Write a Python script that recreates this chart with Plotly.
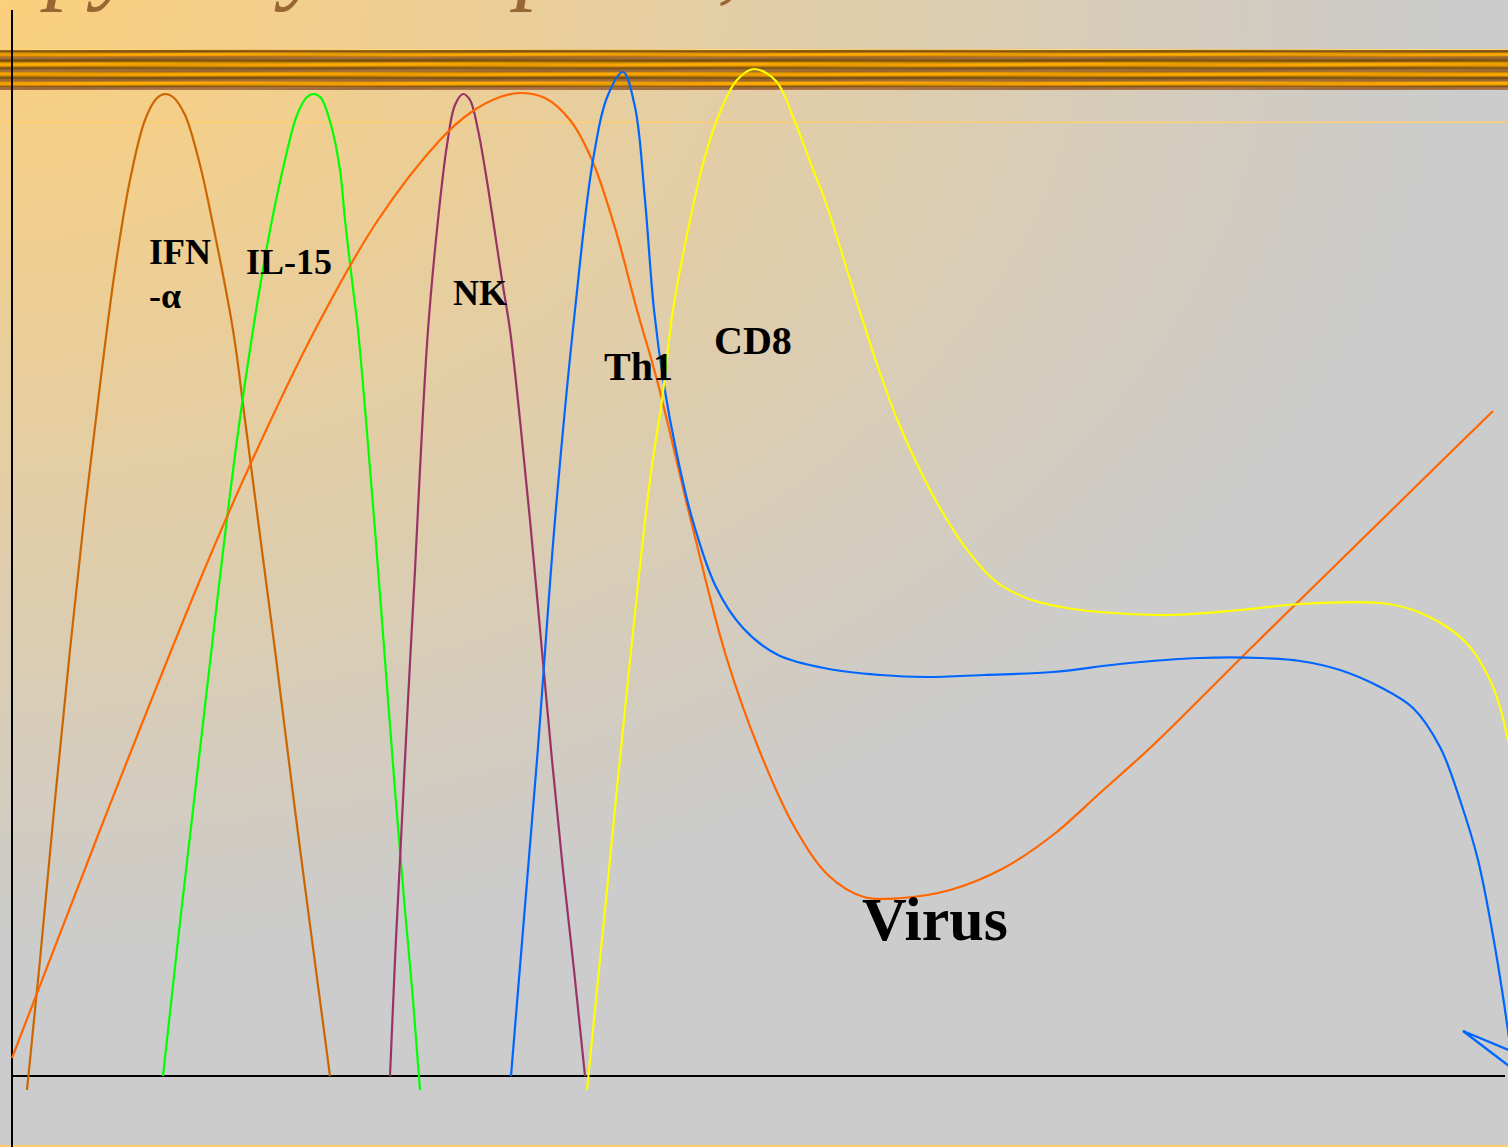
import base64
import struct
import zlib

import numpy as np
import plotly.graph_objects as go

W, H = 1508, 1147

# ---- data: time (x) and response level (y) samples for each curve ----
ifn_t = [15, 28, 43, 58, 73, 88, 103, 118, 133, 145, 153, 161, 173, 188, 200, 221, 233, 246, 263, 283, 300, 318]
ifn_v = [-14, 116, 276, 426, 566, 691, 806, 896, 956, 978, 982, 979, 961, 911, 856, 746, 656, 556, 426, 266, 136, 0]

il15_t = [151, 166, 181, 196, 210, 225, 241, 250, 260, 273, 285, 295, 302, 309, 319, 328, 333, 340, 346, 354, 363, 373, 383, 393, 401, 408]
il15_v = [0, 136, 266, 396, 516, 636, 746, 801, 856, 916, 961, 979, 982, 978, 951, 906, 856, 796, 746, 656, 546, 416, 286, 166, 76, -14]

nk_t = [378, 383, 389, 396, 403, 409, 416, 426, 435, 443, 451, 458, 466, 474, 481, 490, 498, 508, 518, 529, 540, 551, 562, 573]
nk_v = [0, 116, 236, 376, 506, 626, 746, 856, 931, 971, 982, 976, 946, 901, 856, 796, 746, 656, 556, 436, 316, 206, 106, 0]

virus_t = [0, 88, 188, 238, 303, 366, 428, 458, 488, 508, 533, 558, 580, 603, 625, 645, 680, 714, 748, 783,
           817, 852, 890, 938, 990, 1041, 1088, 1138, 1188, 1238, 1288, 1338, 1388, 1438, 1481]
virus_v = [18, 246, 496, 611, 746, 856, 936, 963, 979, 983, 978, 956, 916, 848, 766, 696, 551, 420, 324, 248,
           200, 179, 178, 186, 207, 241, 283, 328, 377, 427, 476, 525, 574, 623, 665]

th1_t = [499, 525, 543, 563, 581, 596, 611, 623, 633, 642, 652, 664, 680, 704, 731, 766, 817, 869, 914, 972,
         1041, 1108, 1188, 1248, 1288, 1328, 1368, 1401, 1428, 1448, 1466, 1480, 1490, 1498]
th1_v = [0, 316, 556, 766, 916, 981, 1004, 969, 876, 766, 691, 626, 558, 489, 448, 421, 407, 401, 399, 401,
         404, 412, 418, 418, 415, 406, 389, 368, 329, 276, 216, 146, 86, 31]
# the small hook where the Th1 trace folds back in at the right edge
th1_hook_t = [1518, 1451, 1518]
th1_hook_v = [17, 45, -6]

cd8_t = [575, 595, 616, 638, 650, 661, 676, 692, 708, 725, 742, 764, 783, 799, 814, 832, 849, 867, 885, 906,
         928, 953, 982, 1014, 1049, 1088, 1158, 1228, 1288, 1368, 1401, 1435, 1458, 1478, 1488, 1498]
cd8_v = [-14, 186, 396, 596, 676, 766, 846, 916, 964, 996, 1007, 995, 954, 912, 873, 816, 761, 706, 657, 610,
         568, 529, 496, 478, 469, 464, 461, 466, 472, 473, 466, 449, 429, 396, 369, 326]

series = [
    ("IFN-α", ifn_t, ifn_v, "#CC6600"),
    ("IL-15", il15_t, il15_v, "#00FF00"),
    ("NK", nk_t, nk_v, "#993366"),
    ("Virus", virus_t, virus_v, "#FF6600"),
    ("Th1", th1_t, th1_v, "#0066FF"),
    ("CD8", cd8_t, cd8_v, "#FFFF00"),
]

X_RANGE = [-12, 1496]
Y_RANGE = [-71, 1076]

# ---- slide backdrop: warm corner gradient, gilded rail and hairlines ----
yy, xx = np.mgrid[0:H, 0:W].astype(float)
r = np.sqrt((xx / 1450.0) ** 2 + (yy / 950.0) ** 2)
wgt = np.clip(1.0 - r, 0.0, 1.0)[..., None]
gray = np.array([204.0, 204.0, 204.0])
warm = np.array([252.0, 208.0, 125.0])
img = gray + (warm - gray) * wgt

rail = {
    49: (255, 208, 112), 50: (150, 100, 30), 51: (130, 85, 15), 52: (180, 120, 10), 53: (230, 155, 5),
    54: (250, 165, 0), 55: (235, 155, 5), 56: (190, 125, 15), 57: (160, 105, 50), 58: (160, 105, 55),
    59: (140, 90, 20), 60: (120, 80, 10), 61: (150, 100, 10), 62: (200, 135, 5), 63: (240, 160, 0),
    64: (250, 165, 0), 65: (240, 158, 3), 66: (200, 132, 10), 67: (150, 100, 15), 68: (125, 82, 12),
    69: (155, 105, 50), 70: (160, 105, 58), 71: (165, 110, 40), 72: (210, 140, 10), 73: (245, 163, 0),
    74: (250, 166, 0), 75: (230, 152, 5), 76: (180, 118, 15), 77: (135, 88, 15), 78: (125, 82, 15),
    79: (155, 104, 50), 80: (160, 106, 58), 81: (200, 135, 20), 82: (245, 162, 0), 83: (250, 166, 0),
    84: (238, 157, 3), 85: (190, 125, 12), 86: (140, 92, 15), 87: (160, 106, 60), 88: (165, 110, 65),
    89: (170, 115, 70),
}
cols = np.arange(W, dtype=float)
for row, rgb in rail.items():
    shade = 1.0 + 0.05 * np.sin(cols / 53.0 + row * 0.9)
    img[row] = np.clip(np.array(rgb, dtype=float)[None, :] * shade[:, None], 0, 255)
img[121] = (img[121] + np.array([255.0, 206.0, 110.0])) / 2
img[122] = [255, 206, 110]
img[H - 2:] = [255, 206, 104]

arr = np.clip(img, 0, 255).astype(np.uint8)
raw = np.hstack([np.zeros((H, 1), np.uint8), arr.reshape(H, W * 3)]).tobytes()


def chunk(tag, data):
    return struct.pack(">I", len(data)) + tag + data + struct.pack(">I", zlib.crc32(tag + data) & 0xFFFFFFFF)


png = (b"\x89PNG\r\n\x1a\n"
       + chunk(b"IHDR", struct.pack(">IIBBBBB", W, H, 8, 2, 0, 0, 0))
       + chunk(b"IDAT", zlib.compress(raw, 9))
       + chunk(b"IEND", b""))
backdrop = "data:image/png;base64," + base64.b64encode(png).decode()

# ---- figure ----
fig = go.Figure()
for name, t, v, color in series:
    fig.add_trace(go.Scatter(x=t, y=v, mode="lines", name=name,
                             line=dict(color=color, width=2.2, shape="spline", smoothing=1.0,
                                       simplify=False),
                             hoverinfo="skip"))
fig.add_trace(go.Scatter(x=th1_hook_t, y=th1_hook_v, mode="lines", name="Th1",
                         line=dict(color="#0066FF", width=2.2), hoverinfo="skip"))

serif = "Liberation Serif"
labels = [
    ("IFN", 135, 802, 36),
    ("-α", 135, 758, 36),
    ("IL-15", 232, 792, 36),
    ("NK", 439, 761, 36),
    ("Th1", 590, 685, 40),
    ("CD8", 700, 711, 40),
    ("Virus", 848, 121, 62),
]
for text, x, y, size in labels:
    fig.add_annotation(x=x, y=y, xref="x", yref="y", text=f"<b>{text}</b>", showarrow=False,
                       xanchor="left", yanchor="bottom",
                       font=dict(family=serif, size=size, color="black"))

# slide heading, mostly above the visible frame
fig.add_annotation(x=-485 / W, y=1 - 14 / H, xref="paper", yref="paper",
                   text="<i>Immunotherapy: key receptors, cells and kinetics</i>",
                   showarrow=False, xanchor="left", yanchor="bottom",
                   font=dict(family=serif, size=98, color="#996633"))

# time and level axes (black rules through the origin)
axis_line = dict(color="black", width=2)
fig.add_shape(type="line", xref="x", yref="y", x0=0, x1=1493, y0=0, y1=0, line=axis_line, layer="below")
fig.add_shape(type="line", xref="x", yref="y", x0=0, x1=0, y0=Y_RANGE[0], y1=1066, line=axis_line, layer="below")

axis_style = dict(showgrid=False, showticklabels=False, ticks="", showline=False, zeroline=False)
fig.update_xaxes(range=X_RANGE, **axis_style)
fig.update_yaxes(range=Y_RANGE, **axis_style)

fig.update_layout(
    width=W, height=H,
    margin=dict(l=0, r=0, t=0, b=0),
    paper_bgcolor="rgba(0,0,0,0)",
    plot_bgcolor="rgba(0,0,0,0)",
    showlegend=False,
    images=[dict(source=backdrop, xref="paper", yref="paper", x=0, y=1, sizex=1, sizey=1,
                 xanchor="left", yanchor="top", sizing="stretch", layer="below")],
)

fig.write_html("out.html", config={"displayModeBar": False})
